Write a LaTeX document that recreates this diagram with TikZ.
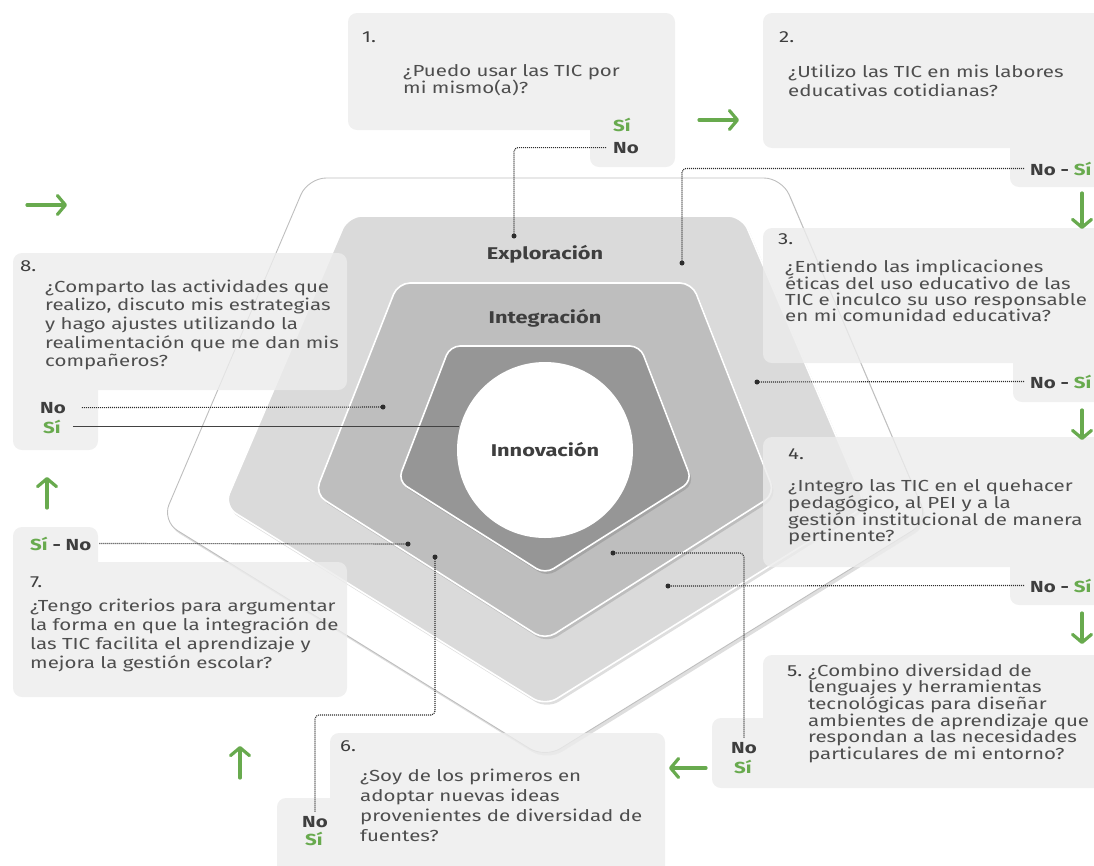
\documentclass[tikz,border=0pt]{standalone}
\usepackage{fontspec}
\setmainfont{Fira Sans}[FakeStretch=1.28]
\usetikzlibrary{arrows.meta}
\definecolor{txt}{RGB}{78,78,78}
\definecolor{numc}{RGB}{62,62,62}
\definecolor{grn}{RGB}{104,170,78}
\definecolor{boxc}{RGB}{236,236,236}
\definecolor{dotc}{RGB}{45,45,45}
\definecolor{explc}{RGB}{218,218,218}
\definecolor{integc}{RGB}{190,190,190}
\definecolor{innovc}{RGB}{150,150,150}
\definecolor{outl}{RGB}{190,190,190}
\newcommand{\qf}[1]{\fontsize{16}{#1}\selectfont}
\newcommand{\ql}[1]{\vtop{\halign{##\hfil\cr#1\crcr}}}
\begin{document}
\begin{tikzpicture}[x=1pt,y=-1pt,
  qbox/.style={fill=boxc, fill opacity=0.8, rounded corners=9},
  qtext/.style={text=txt, anchor=base west, inner sep=0pt},
  numlab/.style={text=numc, anchor=base west, inner sep=0pt, font=\qf{18}},
  yn/.style={text=numc, anchor=base west, inner sep=0pt, font=\bfseries\qf{18}},
  yesl/.style={text=grn, anchor=base west, inner sep=0pt, font=\bfseries\qf{18}},
  conn/.style={draw=dotc, line width=1.1pt, dash pattern=on 1pt off 1pt, rounded corners=4},
  enddot/.style={fill=dotc},
  garrow/.style={draw=grn, line width=3.2pt, line cap=round, -{Straight Barb[length=8pt,width=19pt,line width=3.2pt,round]}},
  pentlayer/.style={draw=white, line width=1.6pt},
  pshadow/.style={fill=black, opacity=0.13},
  lvl/.style={font=\bfseries\fontsize{17}{18}\selectfont, text=numc, inner sep=0pt}
]
\useasboundingbox (0,0) rectangle (1094,865);
\clip (0,0) rectangle (1094,865);

% ---------- pentagons ----------
\fill[pshadow, rounded corners=18] (310,181) -- (784,181) -- (930,524) -- (547,761) -- (164,524) -- cycle;
\filldraw[fill=white, draw=outl, line width=0.9pt, rounded corners=18] (308,178) -- (782,178) -- (928,521) -- (545,758) -- (162,521) -- cycle;

\fill[pshadow, rounded corners=14] (350,219) -- (744,219) -- (868,509) -- (547,709) -- (226,509) -- cycle;
\filldraw[fill=explc, pentlayer, rounded corners=14] (348,216) -- (742,216) -- (866,506) -- (545,706) -- (224,506) -- cycle;

\fill[pshadow, rounded corners=12] (400,286) -- (694,286) -- (777,497) -- (547,643) -- (317,497) -- cycle;
\filldraw[fill=integc, pentlayer, rounded corners=12] (398,283) -- (692,283) -- (775,494) -- (545,640) -- (315,494) -- cycle;

\fill[pshadow, rounded corners=10] (452,349) -- (642,349) -- (694,484) -- (547,577) -- (400,484) -- cycle;
\filldraw[fill=innovc, pentlayer, rounded corners=10] (450,346) -- (640,346) -- (692,481) -- (545,574) -- (398,481) -- cycle;

% ---------- boxes ----------
\fill[qbox] (348,13) rectangle (675,130) (590,100) rectangle (675,167);
\fill[qbox] (763,13) rectangle (1104,148) (1010,120) rectangle (1104,187);
\fill[qbox] (763,228) rectangle (1104,363) (1013,340) rectangle (1104,402);
\fill[qbox] (763,437) rectangle (1104,567) (1010,540) rectangle (1104,605);
\fill[qbox] (763,655) rectangle (1104,788) (712,718) rectangle (790,788);
\fill[qbox] (330,733) rectangle (665,875) (277,798) rectangle (350,875);
\fill[qbox] (13,562) rectangle (347,697) (13,527) rectangle (98,590);
\fill[qbox] (13,253) rectangle (347,390) (13,360) rectangle (98,450);

% ---------- level labels ----------
\node[lvl] (lexpl) at (545,254) {Exploración};
\node[lvl] (linteg) at (545,318) {Integración};

% ---------- texts ----------
\node[numlab] (n1) at (362,42) {1.};
\node[qtext, font=\qf{17.7}] (q1) at (403,76) {\ql{¿Puedo usar las TIC por\cr mi mismo(a)?}};
\node[yesl] (si1) at (613,131) {Sí};
\node[yn] (no1) at (613,153) {No};

\node[numlab] (n2) at (779,42) {2.};
\node[qtext, font=\qf{19}] (q2) at (788,77) {\ql{¿Utilizo las TIC en mis labores\cr educativas cotidianas?}};
\node[yn] (ns2) at (1030,175) {No - \textcolor{grn}{Sí}};

\node[numlab] (n3) at (778,244) {3.};
\node[qtext, font=\qf{16.2}] (q3) at (785,272) {\ql{¿Entiendo las implicaciones\cr éticas del uso educativo de las\cr TIC e inculco su uso responsable\cr en mi comunidad educativa?}};
\node[yn] (ns3) at (1030,388) {No - \textcolor{grn}{Sí}};

\node[numlab] (n4) at (788,459) {4.};
\node[qtext, font=\qf{16}] (q4) at (788,491) {\ql{¿Integro las TIC en el quehacer\cr pedagógico, al PEI y a la\cr gestión institucional de manera\cr pertinente?}};
\node[yn] (ns4) at (1030,592) {No - \textcolor{grn}{Sí}};

\node[numlab] (n5) at (787,676) {5.};
\node[qtext, font=\qf{16.7}] (q5) at (808,676) {\ql{¿Combino diversidad de\cr lenguajes y herramientas\cr tecnológicas para diseñar\cr ambientes de aprendizaje que\cr respondan a las necesidades\cr particulares de mi entorno?}};
\node[yn] (no5) at (731,753) {No};
\node[yesl] (si5) at (734,773) {Sí};

\node[numlab] (n6) at (340,751) {6.};
\node[qtext, font=\qf{20}] (q6) at (360,781) {\ql{¿Soy de los primeros en\cr adoptar nuevas ideas\cr provenientes de diversidad de\cr fuentes?}};
\node[yn] (no6) at (302,827) {No};
\node[yesl] (si6) at (305,845) {Sí};

\node[yn] (sn7) at (30,550) {\textcolor{grn}{Sí} - No};
\node[numlab] (n7) at (30,587) {7.};
\node[qtext, font=\qf{19.3}] (q7) at (30,611) {\ql{¿Tengo criterios para argumentar\cr la forma en que la integración de\cr las TIC facilita el aprendizaje y\cr mejora la gestión escolar?}};

\node[numlab] (n8) at (20,271) {8.};
\node[qtext, font=\qf{18.7}] (q8) at (45,292) {\ql{¿Comparto las actividades que\cr realizo, discuto mis estrategias\cr y hago ajustes utilizando la\cr realimentación que me dan mis\cr compañeros?}};
\node[yn] (no8) at (40,413) {No};
\node[yesl] (si8) at (43,433) {Sí};

% ---------- dot targets ----------
\coordinate (d1) at (514,236);
\coordinate (d2) at (682,263);
\coordinate (d3) at (757,382);
\coordinate (d4) at (668,586);
\coordinate (d5) at (613,553);
\coordinate (c6) at (435,715);
\coordinate (d6) at (435,557);
\coordinate (d7) at (408,544);
\coordinate (d8) at (383,407);

% ---------- solid line to the centre ----------
\draw[draw=dotc!90, line width=1.4pt] ([xshift=12pt]si8.east) -- (si8.east -| 459,0);

% ---------- centre circle ----------
\node[circle, fill=white, minimum size=176pt, inner sep=0pt, outer sep=0pt, font=\bfseries\fontsize{17}{18}\selectfont, text=numc] (innov) at (545,450) {Innovación};

% ---------- dotted connectors ----------
\draw[conn] ([xshift=-7pt]no1.west) -| (d1);
\draw[conn] ([xshift=-6pt]ns2.west) -| (d2);
\draw[conn] ([xshift=-6pt]ns3.west) -- (d3);
\draw[conn] ([xshift=-6pt]ns4.west) -- (d4);
\draw[conn] ([yshift=4pt]no5.north) |- (d5);
\draw[conn] ([yshift=4pt]no6.north) |- (c6) -- (d6);
\draw[conn] ([xshift=8pt]sn7.east) -- (d7);
\draw[conn] ([xshift=16pt]no8.east) -- (d8);
\foreach \d in {d1,d2,d3,d4,d5,d6,d7,d8} \fill[enddot] (\d) circle (2.5pt);

% ---------- green flow arrows ----------
\coordinate (a1s) at (699,120); \coordinate (a1e) at (739,120);
\coordinate (a2s) at (1082,193); \coordinate (a2e) at (1082,229);
\coordinate (a3s) at (1082,410); \coordinate (a3e) at (1082,440);
\coordinate (a4s) at (1082,613); \coordinate (a4e) at (1082,644);
\coordinate (a5s) at (706,768); \coordinate (a5e) at (669,768);
\coordinate (a6s) at (240,778); \coordinate (a6e) at (240,746);
\coordinate (a7s) at (47,508); \coordinate (a7e) at (47,477);
\coordinate (a8s) at (27,205); \coordinate (a8e) at (67,205);
\foreach \s/\e in {a1s/a1e,a2s/a2e,a3s/a3e,a4s/a4e,a5s/a5e,a6s/a6e,a7s/a7e,a8s/a8e}
  \draw[garrow] (\s) -- (\e);
\end{tikzpicture}
\end{document}
